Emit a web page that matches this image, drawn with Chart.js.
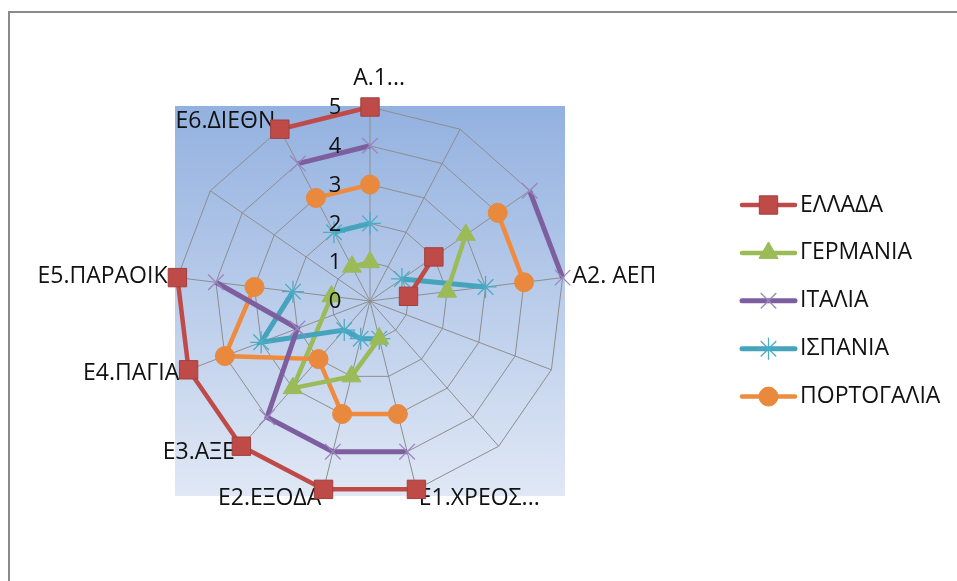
<!DOCTYPE html>
<html>
<head>
<meta charset="utf-8">
<script src="https://cdn.jsdelivr.net/npm/chart.js@4/dist/chart.umd.min.js"></script>
<style>
  html, body { margin: 0; padding: 0; background: #fff; }
  canvas { display: block; }
</style>
</head>
<body>
<canvas id="radar" width="957" height="581"></canvas>
<script>
// Axes of the radar (empty names are unlabelled spokes)
const categories = ['Α.1...', '', '', 'Α2. ΑΕΠ', '', '', 'Ε1.ΧΡΕΟΣ...', 'Ε2.ΕΞΟΔΑ', 'Ε3.ΑΞΕ', 'Ε4.ΠΑΓΙΑ', 'Ε5.ΠΑΡΑΟΙΚ...', '', 'Ε6.ΔΙΕΘΝ...'];

// Scores per country (null = no score on that axis)
const greece   = [5, null, 2, 1, null, null, 5, 5, 5, 5, 5, null, 5];
const germany  = [1, null, 3, 2, null, null, 1, 2, 3, null, 1, null, 1];
const italy    = [4, null, 5, 5, null, null, 4, 4, 4, 2, 4, null, 4];
const spain    = [2, null, 1, 3, null, null, 1, 1, 1, 3, 2, null, 2];
const portugal = [3, null, 4, 4, null, null, 3, 3, 2, 4, 3, null, 3];

// Germany's line is carried across its missing value between these two axes
const germanyJoined = [8, 10];

const seriesNames = ['ΕΛΛΑΔΑ', 'ΓΕΡΜΑΝΙΑ', 'ΙΤΑΛΙΑ', 'ΙΣΠΑΝΙΑ', 'ΠΟΡΤΟΓΑΛΙΑ'];
const tickValues = [0, 1, 2, 3, 4, 5];

const FONT = '"Open Sans", "Noto Sans", "DejaVu Sans", sans-serif';
const FONT_SIZE = 23;
const TICK_FONT_SIZE = 22;

const COLORS = {
  red: '#BE4B48', green: '#9BBB59', purple: '#7D5FA0', aqua: '#4BACC6', orange: '#F79646'
};

function series(label, data, color, style, radius, extra) {
  return Object.assign({
    label, data,
    borderColor: color,
    backgroundColor: color,
    borderWidth: 4.5,
    pointStyle: style,
    pointRadius: radius,
    pointHoverRadius: radius,
    pointBackgroundColor: color,
    pointBorderColor: color,
    pointBorderWidth: 1,
    fill: false,
    tension: 0,
    spanGaps: false
  }, extra || {});
}

const datasets = [
  series(seriesNames[0], greece, COLORS.red, 'rect', 13, { pointBorderColor: '#A33F3C' }),
  series(seriesNames[1], germany, COLORS.green, 'triangle', 11),
  series(seriesNames[2], italy, COLORS.purple, 'crossRot', 11, { pointBorderColor: '#9C86C0', pointBorderWidth: 1.3, borderWidth: 5 }),
  series(seriesNames[3], spain, COLORS.aqua, 'star', 11, { borderColor: '#45A3BC', pointBorderWidth: 1.3, borderWidth: 5 }),
  series(seriesNames[4], portugal, COLORS.orange, 'circle', 9.5, { borderColor: '#EE8B3E', pointBackgroundColor: '#E8893D', pointBorderColor: '#E8893D' }),
  // connector for Germany across its missing axis
  series('', categories.map((_, i) => germanyJoined.includes(i) ? germany[i] : null), COLORS.green, 'triangle', 0,
    { spanGaps: true, isConnector: true })
];

// Plot-area gradient and outer border
const backdrop = {
  id: 'backdrop',
  beforeDraw(chart) {
    const { ctx } = chart;
    const s = chart.scales.r;
    ctx.save();
    ctx.fillStyle = '#fff';
    ctx.fillRect(0, 0, chart.width, chart.height);
    const half = s.drawingArea + 1;
    const x0 = s.xCenter - half, y0 = s.yCenter - half;
    const g = ctx.createLinearGradient(0, y0, 0, y0 + 2 * half);
    g.addColorStop(0, '#93B1E0');
    g.addColorStop(1, '#E0E8F5');
    ctx.fillStyle = g;
    ctx.fillRect(x0, y0, 2 * half, 2 * half);
    ctx.strokeStyle = '#8A8A8A';
    ctx.lineWidth = 2;
    ctx.strokeRect(9, 12, chart.width + 20, chart.height + 20);
    ctx.restore();
  }
};

// Category names around the web
const axisNames = {
  id: 'axisNames',
  beforeDatasetsDraw(chart) {
    const { ctx } = chart;
    const s = chart.scales.r;
    const n = chart.data.labels.length;
    ctx.save();
    ctx.font = FONT_SIZE + 'px ' + FONT;
    ctx.fillStyle = '#111';
    ctx.textBaseline = 'middle';
    ctx.textAlign = 'left';
    chart.data.labels.forEach((label, i) => {
      if (!label) return;
      const a = i * 2 * Math.PI / n;
      const sin = Math.sin(a), cos = Math.cos(a);
      const p = s.getPointPosition(i, s.drawingArea);
      const core = label.replace(/\.\.\.$/, '');
      const w = ctx.measureText(core).width;
      let left, y;
      if (Math.abs(sin) < 0.05) {
        left = p.x - w / 2;
        y = cos > 0 ? p.y - 29 : p.y + 29;
      } else {
        const gap = 10 * Math.abs(sin);
        left = sin > 0 ? p.x + gap : p.x - gap - w;
        y = p.y - 9 * cos;
      }
      ctx.fillText(label, left, y);
    });
    ctx.restore();
  }
};

// Scale values next to the vertical spoke, plus the legend
const overlay = {
  id: 'overlay',
  afterDatasetsDraw(chart) {
    const { ctx } = chart;
    const s = chart.scales.r;
    ctx.save();
    ctx.font = TICK_FONT_SIZE + 'px ' + FONT;
    ctx.fillStyle = '#111';
    ctx.textAlign = 'center';
    ctx.textBaseline = 'middle';
    s.ticks.forEach(t => {
      const y = s.yCenter - s.getDistanceFromCenterForValue(t.value);
      ctx.fillText(String(t.value), s.xCenter - 35, y + 1);
    });

    // legend: line sample with marker, then name
    ctx.font = FONT_SIZE + 'px ' + FONT;
    const lx0 = 742, lx1 = 795, tx = 800, top = 205, step = 47.9;
    chart.data.datasets.filter(d => !d.isConnector).forEach((d, i) => {
      const y = top + i * step;
      ctx.beginPath();
      ctx.strokeStyle = d.borderColor;
      ctx.lineWidth = d.borderWidth;
      ctx.lineCap = 'round';
      ctx.moveTo(lx0, y);
      ctx.lineTo(lx1, y);
      ctx.stroke();
      ctx.lineCap = 'butt';
      ctx.fillStyle = d.pointBackgroundColor;
      ctx.strokeStyle = d.pointBorderColor;
      ctx.lineWidth = d.pointBorderWidth;
      Chart.helpers.drawPoint(ctx, {
        pointStyle: d.pointStyle, radius: d.pointRadius, rotation: 0, borderWidth: d.pointBorderWidth
      }, (lx0 + lx1) / 2, y);
      ctx.fillStyle = '#111';
      ctx.textAlign = 'left';
      ctx.fillText(d.label, tx, y);
    });
    ctx.restore();
  }
};

function draw() {
  new Chart(document.getElementById('radar'), {
    type: 'radar',
    data: { labels: categories, datasets },
    options: {
      responsive: false,
      animation: false,
      devicePixelRatio: 1,
      layout: { padding: { left: 176, right: 393, top: 107, bottom: 86 } },
      plugins: { legend: { display: false }, tooltip: { enabled: false } },
      scales: {
        r: {
          min: tickValues[0],
          max: tickValues[tickValues.length - 1],
          ticks: { stepSize: 1, display: false },
          pointLabels: { display: false },
          grid: { color: '#8E8E8E', lineWidth: 1 },
          angleLines: { color: '#8E8E8E', lineWidth: 1 }
        }
      }
    },
    plugins: [backdrop, axisNames, overlay]
  });
}

if (document.fonts && document.fonts.load) {
  document.fonts.load(FONT_SIZE + 'px "Open Sans"').then(draw, draw);
} else {
  draw();
}
</script>
</body>
</html>
